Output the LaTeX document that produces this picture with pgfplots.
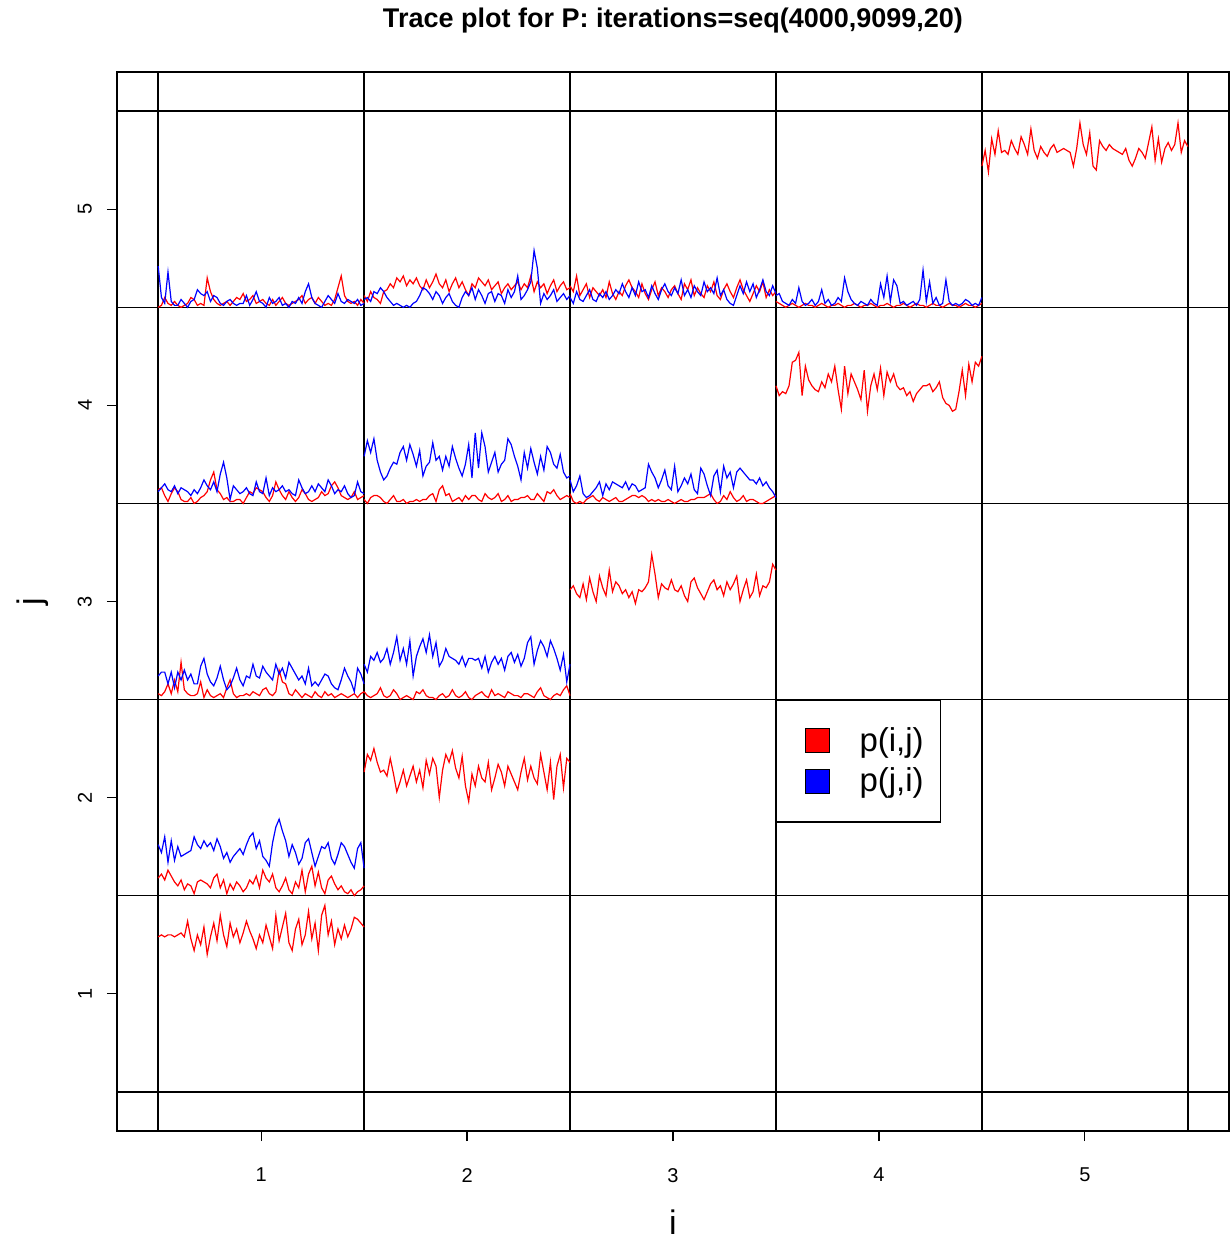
\documentclass[border=0pt]{standalone}
\usepackage{fontspec}
\setmainfont{Liberation Sans}
\usepackage{pgfplots}
\usepackage{pgfplotstable}
\pgfplotsset{compat=1.18}

% one row per trace: value of p inside its cell (cell baseline j-0.5), 64 draws each
\pgfplotstableread[header=false]{
d11 0.79 0.80 0.79 0.80 0.80 0.79 0.80 0.81  0.79 0.87 0.78 0.72 0.80 0.75 0.84 0.70  0.79 0.86 0.77 0.90 0.80 0.74 0.86 0.79  0.83 0.76 0.81 0.87 0.82 0.78 0.73 0.80  0.76 0.85 0.79 0.73 0.90 0.77 0.84 0.91  0.76 0.72 0.83 0.88 0.75 0.80 0.92 0.78  0.86 0.72 0.90 0.95 0.80 0.87 0.75 0.83  0.78 0.85 0.79 0.83 0.89 0.88 0.86 0.84
d22 0.63 0.72 0.69 0.75 0.68 0.63 0.64 0.61  0.70 0.62 0.53 0.58 0.64 0.56 0.61 0.66  0.58 0.64 0.55 0.69 0.62 0.70 0.66 0.50  0.64 0.72 0.68 0.74 0.65 0.60 0.71 0.56  0.48 0.62 0.56 0.66 0.60 0.58 0.68 0.54  0.60 0.67 0.63 0.56 0.66 0.62 0.58 0.54  0.63 0.70 0.59 0.66 0.60 0.57 0.72 0.63  0.54 0.68 0.49 0.66 0.72 0.55 0.70 0.68
d33 0.56 0.58 0.54 0.52 0.59 0.51 0.62 0.55  0.50 0.63 0.57 0.53 0.66 0.55 0.60 0.58  0.54 0.56 0.52 0.55 0.49 0.56 0.55 0.57  0.60 0.74 0.64 0.52 0.59 0.57 0.56 0.61  0.56 0.55 0.58 0.53 0.50 0.60 0.62 0.57  0.54 0.51 0.55 0.59 0.61 0.56 0.58 0.53  0.60 0.56 0.59 0.63 0.50 0.56 0.61 0.52  0.55 0.64 0.53 0.58 0.57 0.60 0.69 0.66
d44 0.60 0.55 0.57 0.56 0.60 0.72 0.73 0.77  0.55 0.70 0.63 0.60 0.58 0.57 0.62 0.59  0.66 0.62 0.70 0.58 0.48 0.70 0.56 0.66  0.62 0.58 0.53 0.68 0.47 0.60 0.66 0.58  0.69 0.55 0.67 0.62 0.66 0.60 0.58 0.59  0.55 0.57 0.52 0.56 0.58 0.60 0.60 0.61  0.57 0.59 0.62 0.54 0.51 0.50 0.47 0.48  0.57 0.68 0.55 0.71 0.62 0.72 0.70 0.75
d55 0.72 0.80 0.69 0.86 0.78 0.90 0.79 0.80  0.78 0.85 0.81 0.78 0.87 0.83 0.78 0.91  0.80 0.76 0.82 0.79 0.77 0.81 0.83 0.79  0.80 0.81 0.80 0.79 0.72 0.81 0.94 0.83  0.78 0.89 0.72 0.70 0.85 0.82 0.80 0.83  0.81 0.80 0.79 0.78 0.81 0.75 0.72 0.76  0.81 0.79 0.76 0.84 0.92 0.75 0.86 0.74  0.81 0.84 0.80 0.83 0.94 0.79 0.85 0.82
r12 0.09 0.11 0.08 0.13 0.10 0.07 0.05 0.08  0.03 0.06 0.05 0.01 0.07 0.08 0.07 0.06  0.04 0.09 0.11 0.04 0.08 0.01 0.06 0.03  0.07 0.05 0.02 0.04 0.08 0.06 0.10 0.04  0.13 0.09 0.07 0.11 0.04 0.02 0.05 0.09  0.03 0.01 0.07 0.04 0.13 0.02 0.11 0.15  0.05 0.12 0.04 0.01 0.08 0.10 0.06 0.03  0.05 0.02 0.01 0.03 0.00 0.02 0.03 0.05
b12 0.26 0.22 0.30 0.17 0.28 0.18 0.25 0.20  0.21 0.22 0.23 0.30 0.26 0.24 0.28 0.25  0.27 0.23 0.29 0.25 0.19 0.22 0.17 0.20  0.22 0.24 0.21 0.26 0.30 0.32 0.24 0.28  0.20 0.18 0.15 0.27 0.35 0.39 0.33 0.28  0.20 0.26 0.22 0.16 0.19 0.27 0.29 0.22  0.15 0.20 0.25 0.24 0.27 0.19 0.16 0.21  0.27 0.25 0.21 0.17 0.14 0.24 0.27 0.14
r13 0.03 0.02 0.04 0.08 0.03 0.10 0.04 0.19  0.05 0.03 0.02 0.02 0.03 0.09 0.01 0.05  0.02 0.01 0.02 0.03 0.01 0.06 0.10 0.03  0.01 0.02 0.02 0.03 0.02 0.04 0.03 0.02  0.05 0.06 0.03 0.02 0.04 0.15 0.09 0.08  0.03 0.02 0.05 0.03 0.01 0.03 0.02 0.01  0.04 0.02 0.01 0.04 0.02 0.03 0.01 0.02  0.03 0.02 0.01 0.02 0.03 0.01 0.03 0.04
b13 0.12 0.14 0.14 0.08 0.14 0.06 0.14 0.10  0.15 0.10 0.13 0.08 0.08 0.17 0.21 0.13  0.09 0.07 0.11 0.17 0.10 0.05 0.07 0.11  0.16 0.10 0.07 0.12 0.11 0.18 0.12 0.11  0.17 0.14 0.12 0.10 0.18 0.13 0.16 0.11  0.19 0.16 0.13 0.10 0.12 0.08 0.16 0.07  0.09 0.07 0.10 0.13 0.12 0.08 0.06 0.05  0.10 0.16 0.12 0.09 0.04 0.16 0.13 0.08
r23 0.04 0.02 0.01 0.02 0.03 0.06 0.02 0.01  0.02 0.05 0.03 0.00 0.01 0.02 0.01 0.00  0.04 0.03 0.05 0.02 0.01 0.01 0.00 0.02  0.03 0.01 0.02 0.05 0.02 0.01 0.02 0.04  0.01 0.00 0.02 0.03 0.04 0.02 0.01 0.05  0.02 0.03 0.02 0.01 0.04 0.03 0.02 0.02  0.01 0.03 0.03 0.02 0.01 0.04 0.06 0.02  0.01 0.00 0.02 0.03 0.02 0.05 0.07 0.02
b23 0.18 0.14 0.22 0.20 0.24 0.19 0.21 0.26  0.18 0.24 0.32 0.20 0.26 0.18 0.30 0.12  0.22 0.27 0.31 0.24 0.33 0.22 0.29 0.17  0.20 0.26 0.22 0.21 0.20 0.18 0.22 0.17  0.21 0.21 0.20 0.21 0.16 0.22 0.14 0.19  0.22 0.18 0.21 0.15 0.22 0.24 0.19 0.23  0.17 0.21 0.29 0.32 0.18 0.25 0.30 0.27  0.22 0.30 0.26 0.21 0.15 0.23 0.09 0.18
r14 0.07 0.08 0.04 0.01 0.05 0.08 0.06 0.02  0.01 0.01 0.03 0.00 0.01 0.03 0.04 0.06  0.12 0.16 0.07 0.05 0.02 0.03 0.01 0.01  0.02 0.02 0.00 0.03 0.06 0.05 0.08 0.07  0.06 0.03 0.01 0.04 0.11 0.07 0.04 0.02  0.06 0.03 0.01 0.03 0.07 0.05 0.02 0.01  0.02 0.03 0.06 0.04 0.05 0.09 0.11 0.08  0.04 0.03 0.02 0.03 0.06 0.02 0.03 0.04
b14 0.06 0.08 0.10 0.07 0.06 0.09 0.05 0.08  0.07 0.06 0.04 0.07 0.05 0.08 0.12 0.09  0.07 0.11 0.06 0.15 0.21 0.13 0.02 0.09  0.07 0.05 0.06 0.08 0.05 0.04 0.11 0.06  0.05 0.13 0.04 0.08 0.06 0.07 0.09 0.06  0.07 0.05 0.04 0.12 0.08 0.05 0.06 0.09  0.06 0.10 0.08 0.06 0.12 0.09 0.05 0.07  0.06 0.09 0.05 0.03 0.04 0.11 0.06 0.05
r24 0.02 0.00 0.03 0.04 0.04 0.03 0.01 0.00  0.02 0.04 0.01 0.01 0.02 0.00 0.01 0.01  0.02 0.01 0.02 0.02 0.04 0.05 0.01 0.07  0.09 0.04 0.05 0.01 0.02 0.03 0.01 0.04  0.02 0.04 0.04 0.02 0.01 0.05 0.03 0.02  0.03 0.05 0.01 0.02 0.04 0.01 0.02 0.02  0.03 0.03 0.04 0.02 0.02 0.05 0.03 0.01  0.06 0.05 0.07 0.04 0.02 0.03 0.04 0.03
b24 0.24 0.32 0.26 0.33 0.22 0.16 0.12 0.14  0.18 0.21 0.20 0.26 0.29 0.22 0.30 0.25  0.19 0.27 0.14 0.19 0.21 0.31 0.22 0.24  0.17 0.24 0.19 0.29 0.23 0.18 0.14 0.20  0.30 0.13 0.36 0.18 0.36 0.29 0.16 0.21  0.26 0.16 0.20 0.22 0.33 0.30 0.24 0.19  0.12 0.26 0.18 0.28 0.21 0.15 0.24 0.17  0.29 0.26 0.20 0.18 0.25 0.16 0.13 0.14
r34 0.05 0.01 0.00 0.01 0.00 0.02 0.03 0.04  0.02 0.01 0.03 0.02 0.01 0.02 0.03 0.01  0.01 0.02 0.03 0.04 0.04 0.03 0.04 0.03  0.01 0.02 0.01 0.02 0.01 0.01 0.02 0.01  0.00 0.01 0.02 0.01 0.01 0.02 0.02 0.03  0.03 0.03 0.04 0.05 0.02 0.00 0.01 0.04  0.02 0.06 0.03 0.01 0.02 0.04 0.01 0.02  0.02 0.01 0.00 0.00 0.01 0.02 0.03 0.04
b34 0.12 0.06 0.09 0.14 0.05 0.03 0.04 0.06  0.08 0.11 0.04 0.10 0.07 0.11 0.10 0.09  0.08 0.11 0.07 0.10 0.09 0.06 0.07 0.08  0.20 0.16 0.13 0.08 0.12 0.17 0.09 0.07  0.19 0.06 0.09 0.13 0.10 0.15 0.07 0.05  0.18 0.15 0.09 0.04 0.14 0.17 0.06 0.19  0.13 0.16 0.08 0.16 0.18 0.16 0.14 0.12  0.12 0.10 0.13 0.09 0.11 0.08 0.06 0.03
r15 0.00 0.01 0.05 0.02 0.01 0.03 0.01 0.00  0.01 0.02 0.05 0.04 0.01 0.02 0.01 0.15  0.08 0.04 0.02 0.01 0.02 0.03 0.01 0.03  0.05 0.04 0.07 0.03 0.04 0.06 0.02 0.03  0.04 0.02 0.01 0.04 0.01 0.03 0.05 0.02  0.01 0.02 0.03 0.04 0.06 0.02 0.04 0.05  0.02 0.05 0.03 0.01 0.02 0.01 0.04 0.10  0.16 0.06 0.03 0.02 0.03 0.01 0.04 0.02
b15 0.21 0.05 0.02 0.18 0.03 0.01 0.01 0.04  0.02 0.00 0.03 0.04 0.09 0.07 0.06 0.08  0.03 0.06 0.05 0.02 0.01 0.03 0.04 0.02  0.01 0.02 0.02 0.06 0.01 0.04 0.08 0.03  0.02 0.00 0.05 0.02 0.03 0.05 0.01 0.02  0.00 0.03 0.02 0.05 0.02 0.08 0.12 0.05  0.02 0.01 0.00 0.03 0.06 0.04 0.02 0.07  0.03 0.02 0.04 0.03 0.02 0.04 0.01 0.02
r25 0.06 0.03 0.08 0.05 0.04 0.02 0.08 0.09  0.12 0.10 0.15 0.13 0.16 0.11 0.14 0.12  0.15 0.11 0.09 0.14 0.10 0.13 0.17 0.12  0.10 0.14 0.08 0.12 0.15 0.10 0.13 0.09  0.06 0.12 0.10 0.15 0.13 0.11 0.14 0.09  0.11 0.13 0.07 0.10 0.12 0.09 0.11 0.13  0.09 0.12 0.10 0.16 0.08 0.13 0.10 0.12  0.07 0.11 0.14 0.08 0.11 0.13 0.09 0.10
b25 0.04 0.05 0.03 0.08 0.07 0.10 0.08 0.05  0.03 0.01 0.02 0.01 0.00 0.01 0.00 0.02  0.03 0.06 0.10 0.09 0.07 0.04 0.08 0.06  0.02 0.05 0.07 0.03 0.01 0.00 0.05 0.08  0.06 0.10 0.04 0.09 0.06 0.02 0.07 0.08  0.03 0.07 0.06 0.02 0.09 0.05 0.08 0.16  0.04 0.06 0.09 0.13 0.29 0.20 0.02 0.07  0.04 0.06 0.09 0.03 0.05 0.07 0.04 0.06
r35 0.11 0.08 0.16 0.06 0.09 0.12 0.05 0.10  0.08 0.06 0.09 0.05 0.13 0.07 0.04 0.08  0.06 0.11 0.14 0.10 0.08 0.05 0.12 0.07  0.04 0.09 0.13 0.06 0.10 0.08 0.05 0.09  0.11 0.07 0.04 0.12 0.09 0.14 0.06 0.10  0.07 0.05 0.11 0.08 0.13 0.06 0.04 0.09  0.12 0.08 0.05 0.10 0.14 0.09 0.06 0.03  0.07 0.11 0.08 0.13 0.05 0.09 0.06 0.08
b35 0.05 0.02 0.08 0.04 0.03 0.06 0.09 0.04  0.03 0.07 0.05 0.08 0.04 0.06 0.09 0.07  0.12 0.08 0.05 0.10 0.06 0.13 0.08 0.09  0.05 0.11 0.07 0.04 0.09 0.12 0.08 0.06  0.10 0.07 0.14 0.06 0.09 0.05 0.11 0.08  0.06 0.13 0.08 0.10 0.07 0.15 0.06 0.09  0.04 0.02 0.01 0.06 0.11 0.07 0.13 0.08  0.12 0.05 0.09 0.14 0.08 0.06 0.11 0.07
r45 0.03 0.02 0.01 0.00 0.01 0.02 0.01 0.00  0.01 0.02 0.01 0.01 0.00 0.01 0.02 0.01  0.00 0.01 0.01 0.02 0.01 0.00 0.01 0.01  0.02 0.01 0.00 0.01 0.01 0.02 0.01 0.00  0.01 0.01 0.02 0.01 0.00 0.01 0.01 0.02  0.01 0.00 0.01 0.02 0.01 0.01 0.00 0.01  0.02 0.01 0.01 0.00 0.01 0.02 0.01 0.01  0.00 0.01 0.02 0.01 0.01 0.00 0.01 0.02
b45 0.06 0.07 0.03 0.02 0.01 0.04 0.02 0.10  0.03 0.01 0.02 0.04 0.01 0.03 0.09 0.02  0.04 0.01 0.02 0.05 0.03 0.15 0.08 0.04  0.02 0.01 0.03 0.02 0.01 0.04 0.02 0.01  0.12 0.05 0.16 0.03 0.14 0.11 0.02 0.03  0.01 0.02 0.03 0.01 0.04 0.19 0.03 0.13  0.02 0.05 0.01 0.02 0.14 0.03 0.01 0.02  0.01 0.02 0.04 0.03 0.01 0.02 0.01 0.05
}\rawtraces
\pgfplotstabletranspose[colnames from=0,input colnames to=t]{\traces}{\rawtraces}

% colour, i, j, column
\newcommand{\trace}[4]{%
  \addplot[#1, line width=0.6pt, forget plot]
    table[x expr={#2-0.5+(\thisrow{t}-1)/63}, y expr={#3-0.5+\thisrow{#4}}]{\traces};}

\begin{document}
\begin{tikzpicture}
\useasboundingbox (-58.5pt,-55.5pt) rectangle (557pt,565.5pt);
\begin{axis}[
  scale only axis, width=556pt, height=529.5pt,
  xmin=0.3, xmax=5.7, ymin=0.3, ymax=5.7,
  xtick={1,...,5}, ytick={1,...,5},
  tick pos=left, tick align=outside, major tick length=5pt,
  minor xtick={0.5,1.5,...,5.5}, minor ytick={0.5,1.5,...,5.5},
  minor tick length=0pt,
  grid=minor, minor grid style={black, line width=0.8pt},
  axis line style={line width=0.6pt},
  tick style={black, line width=0.6pt},
  ticklabel style={font=\fontsize{10}{12}\selectfont},
  /pgf/number format/assume math mode=true,
  xticklabel style={yshift=-10pt},
  yticklabel style={xshift=-4pt, rotate=90, anchor=south},
  xlabel={i}, ylabel={j},
  label style={font=\fontsize{17}{20}\selectfont},
  xlabel style={at={([yshift=-45.5pt]axis description cs:0.5,0)}, anchor=center},
  ylabel style={at={([xshift=-42pt]axis description cs:0,0.5)}, anchor=center},
  title={\fontsize{13.5}{16}\selectfont\bfseries Trace plot for P: iterations=seq(4000,9099,20)},
  title style={at={([yshift=19.5pt]axis description cs:0.5,1)}, anchor=center},
  legend style={at={(axis cs:3.5,2.5)}, anchor=north west, draw=black,
    line width=0.6pt, fill=white, font=\fontsize{16.5}{19}\selectfont,
    inner xsep=7.5pt, inner ysep=12.5pt, row sep=5pt, nodes={inner sep=1pt},
    /tikz/every odd column/.append style={column sep=14pt}},
  legend cell align=left,
]
\trace{red}{1}{1}{d11}
\trace{red}{2}{2}{d22}
\trace{red}{3}{3}{d33}
\trace{red}{4}{4}{d44}
\trace{red}{5}{5}{d55}
\trace{red}{1}{2}{r12} \trace{blue}{1}{2}{b12}
\trace{red}{1}{3}{r13} \trace{blue}{1}{3}{b13}
\trace{red}{2}{3}{r23} \trace{blue}{2}{3}{b23}
\trace{red}{1}{4}{r14} \trace{blue}{1}{4}{b14}
\trace{red}{2}{4}{r24} \trace{blue}{2}{4}{b24}
\trace{red}{3}{4}{r34} \trace{blue}{3}{4}{b34}
\trace{red}{1}{5}{r15} \trace{blue}{1}{5}{b15}
\trace{red}{2}{5}{r25} \trace{blue}{2}{5}{b25}
\trace{red}{3}{5}{r35} \trace{blue}{3}{5}{b35}
\trace{red}{4}{5}{r45} \trace{blue}{4}{5}{b45}
\addlegendimage{legend image code/.code={\path (-6.5pt,0pt); \draw[fill=red, draw=black, line width=0.4pt] (0pt,-6pt) rectangle (12pt,6pt);}}
\addlegendentry{p(i,j)}
\addlegendimage{legend image code/.code={\path (-6.5pt,0pt); \draw[fill=blue, draw=black, line width=0.4pt] (0pt,-6pt) rectangle (12pt,6pt);}}
\addlegendentry{p(j,i)}
\end{axis}
\end{tikzpicture}
\end{document}
